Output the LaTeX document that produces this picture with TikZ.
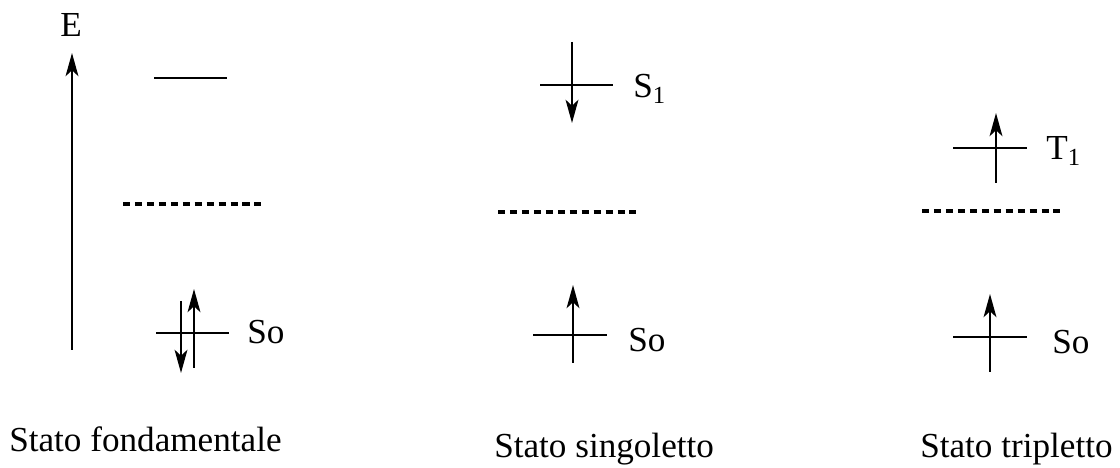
\documentclass[tikz,border=0pt]{standalone}
\usepackage{fontspec}
\setmainfont{Liberation Serif}
\usepackage{tikz}
\usetikzlibrary{arrows.meta}

\begin{document}
\begin{tikzpicture}[
  font=\fontsize{25}{30}\selectfont,
  level/.style={line width=1.8pt},
  virtual/.style={line width=2.2pt, dash pattern=on 5pt off 3.5pt},
  spin/.style={line width=1.8pt,
    -{Stealth[length=5.8mm, width=3.2mm, inset=1.5mm]}},
  lbl/.style={inner sep=0pt, anchor=base west}
]
  \useasboundingbox (0,0) rectangle (28,11.7);

  % energy axis
  \coordinate (axisbot) at (1.8,2.95);
  \coordinate (axistop) at (1.8,10.375);
  \draw[spin] (axisbot) -- (axistop);
  \node[inner sep=0pt] (E) at (1.775,11.075) {E};

  % ground state
  \draw[level] (3.85,9.75) -- (5.675,9.75);
  \draw[virtual] (3.075,6.6) -- (6.6,6.6);
  \draw[level] (3.9,3.375) -- (5.725,3.375);
  \coordinate (gdtop) at (4.525,4.175);
  \coordinate (gdbot) at (4.525,2.375);
  \coordinate (gubot) at (4.85,2.5);
  \coordinate (gutop) at (4.85,4.475);
  \draw[spin] (gdtop) -- (gdbot);
  \draw[spin] (gubot) -- (gutop);
  \node[lbl] (gSo) at (6.175,3.1) {So};
  \node[lbl] (gname) at (0.225,0.4) {Stato fondamentale};

  % singlet state
  \draw[level] (13.5,9.575) -- (15.325,9.575);
  \coordinate (sdtop) at (14.3,10.65);
  \coordinate (sdbot) at (14.3,8.625);
  \draw[spin] (sdtop) -- (sdbot);
  \node[lbl] (sS1) at (15.825,9.25) {S\textsubscript{1}};
  \draw[virtual] (12.45,6.4) -- (15.95,6.4);
  \draw[level] (13.325,3.325) -- (15.175,3.325);
  \coordinate (subot) at (14.325,2.625);
  \coordinate (sutop) at (14.325,4.575);
  \draw[spin] (subot) -- (sutop);
  \node[lbl] (sSo) at (15.7,2.9) {So};
  \node[lbl] (sname) at (12.35,0.25) {Stato singoletto};

  % triplet state
  \draw[level] (23.825,8.0) -- (25.675,8.0);
  \coordinate (tubot) at (24.9,7.125);
  \coordinate (tutop) at (24.9,8.875);
  \draw[spin] (tubot) -- (tutop);
  \node[lbl] (tT1) at (26.15,7.7) {T\textsubscript{1}};
  \draw[virtual] (23.05,6.425) -- (26.575,6.425);
  \draw[level] (23.825,3.275) -- (25.675,3.275);
  \coordinate (tgbot) at (24.75,2.4);
  \coordinate (tgtop) at (24.75,4.35);
  \draw[spin] (tgbot) -- (tgtop);
  \node[lbl] (tSo) at (26.3,2.85) {So};
  \node[lbl] (tname) at (23.0,0.25) {Stato tripletto};
\end{tikzpicture}
\end{document}
